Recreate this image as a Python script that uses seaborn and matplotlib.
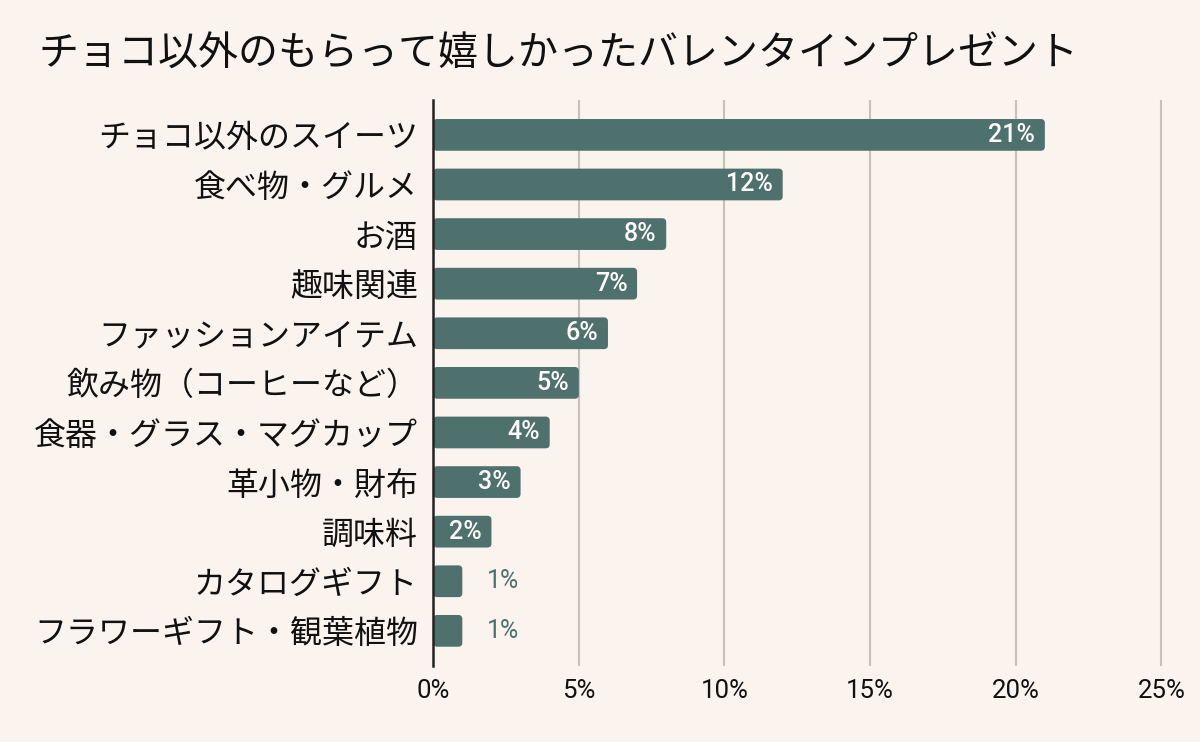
import numpy as np
import pandas as pd
import matplotlib
matplotlib.use("Agg")
import matplotlib.pyplot as plt
from matplotlib.patches import FancyBboxPatch
import seaborn as sns

# data
categories = [
    "チョコ以外のスイーツ",
    "食べ物・グルメ",
    "お酒",
    "趣味関連",
    "ファッションアイテム",
    "飲み物（コーヒーなど）",
    "食器・グラス・マグカップ",
    "革小物・財布",
    "調味料",
    "カタログギフト",
    "フラワーギフト・観葉植物",
]
percents = [21, 12, 8, 7, 6, 5, 4, 3, 2, 1, 1]
x_ticks = [0, 5, 10, 15, 20, 25]
title = "チョコ以外のもらって嬉しかったバレンタインプレゼント"

bg = "#FBF3EE"
bar_color = "#4E716D"
jp_font = ["Noto Sans CJK JP", "DejaVu Sans"]
num_font = ["Roboto", "DejaVu Sans"]

sns.set_theme(style="white")
plt.rcParams["font.family"] = jp_font

df = pd.DataFrame({"category": categories, "percent": percents})

fig = plt.figure(figsize=(12, 7.42), dpi=100, facecolor=bg)
ax = fig.add_axes([0.361, 0.103, 0.608, 0.762])
ax.set_facecolor(bg)

sns.barplot(data=df, x="percent", y="category", color=bar_color,
            width=0.64, saturation=1, linewidth=0, ax=ax, zorder=3)

ax.set_xlim(0, 25.05)
ax.set_ylim(10.7, -0.7)

# swap the plain rectangles for rounded ones (same geometry)
rects = list(ax.patches)
for r in rects:
    x0, y0 = r.get_x(), r.get_y()
    w, h = r.get_width(), r.get_height()
    r.remove()
    ax.add_patch(FancyBboxPatch((x0, y0), w, h,
                                boxstyle="round,pad=0,rounding_size=0.14",
                                mutation_aspect=0.58, facecolor=bar_color,
                                edgecolor="none", zorder=3))

ax.set_xticks(x_ticks)
ax.set_xticklabels([f"{t}%" for t in x_ticks], fontsize=18.5, family=num_font, color="#111111")
ax.tick_params(axis="x", length=0, pad=10)
ax.tick_params(axis="y", length=0, pad=11)
for lab in ax.get_yticklabels():
    lab.set_fontsize(23)
    lab.set_color("#111111")
ax.set_xlabel("")
ax.set_ylabel("")

ax.grid(axis="x", color="#C9C0BB", linewidth=1.5, zorder=0)
ax.grid(axis="y", visible=False)
for side in ["top", "right", "bottom"]:
    ax.spines[side].set_visible(False)
ax.spines["left"].set_color("#222222")
ax.spines["left"].set_linewidth(1.8)
ax.spines["left"].set_zorder(5)

for i, v in enumerate(percents):
    if v >= 2:
        ax.text(v - 0.33, i, f"{v}%", ha="right", va="center", color="white",
                fontsize=18, family=num_font, fontweight="medium", zorder=4)
    else:
        ax.text(v + 0.85, i, f"{v}%", ha="left", va="center", color=bar_color,
                fontsize=18, family=num_font, zorder=4)

fig.text(0.032, 0.926, title, fontsize=28.8, color="#111111", ha="left", va="center")

fig.savefig("out.png", dpi=100, facecolor=bg)
